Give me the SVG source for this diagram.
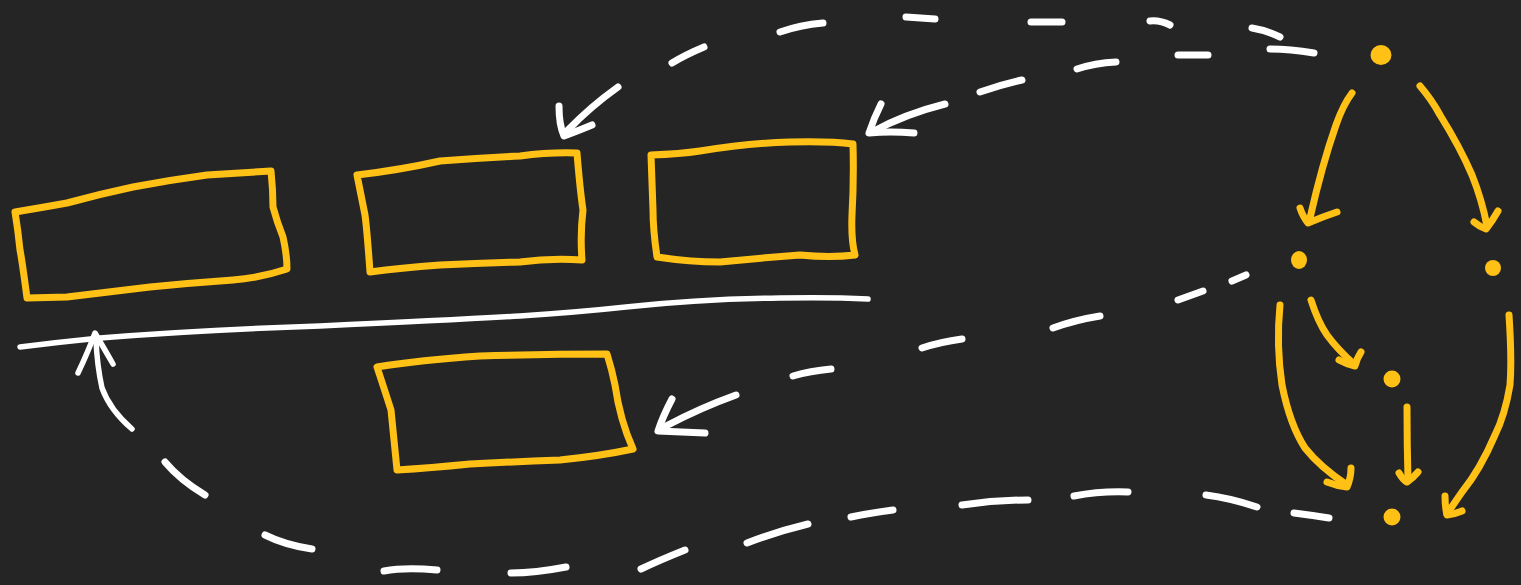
<svg xmlns="http://www.w3.org/2000/svg" width="1521" height="585" viewBox="0 0 1521 585">
<style>
.y{fill:none;stroke:#ffc116;stroke-width:7;stroke-linecap:round;stroke-linejoin:round}
.w{fill:none;stroke:#ffffff;stroke-width:7;stroke-linecap:round;stroke-linejoin:round}
.l{fill:none;stroke:#ffffff;stroke-width:5.5;stroke-linecap:round;stroke-linejoin:round}
.d{fill:#ffc116}
</style>
<rect width="1521" height="585" fill="#252525"/>
<g id="rect1"><path class="y" d="M15,212 Q45,207 67,203 Q100,194 133,187 Q170,180 207,175 L271,171 Q273,190 273,207 Q277,222 283,237 Q287,255 287,269 Q260,278 233,280 Q190,283 150,287 Q100,293 67,297 L27,298 Q22,260 20,250 Q18,230 15,212 Z"/></g>
<g id="rect2"><path class="y" d="M357,175 Q400,170 440,161 Q480,158 520,156 Q550,152 577,153 Q580,190 583,210 Q580,235 582,260 Q550,258 520,262 Q480,263 440,265 Q400,268 370,272 Q367,230 365,215 Q360,190 357,175 Z"/></g>
<g id="rect3"><path class="y" d="M651,155 Q680,154 700,151 Q750,143 790,142 Q830,141 853,144 Q854,180 852,215 Q851,240 855,255 Q830,258 800,255 Q760,258 720,262 Q690,262 657,257 Q653,230 653,210 Q652,180 651,155 Z"/></g>
<g id="rect4"><path class="y" d="M377,367 Q420,360 480,356 Q550,354 607,354 Q612,370 615,385 Q620,420 633,449 Q600,456 560,460 Q510,462 470,464 Q430,468 397,470 Q393,430 391,410 Q383,385 377,367 Z"/></g>
<g id="line"><path class="l" d="M20,347 Q60,342 100,338 Q200,330 320,326 Q450,320 520,316 Q580,312 626,307 Q700,299 780,298 Q830,297 868,299"/></g>
<g id="dot1"><ellipse class="d" cx="1381" cy="55" rx="10.5" ry="10"/></g>
<g id="dot2"><ellipse class="d" cx="1299" cy="260" rx="8" ry="9"/></g>
<g id="dot3"><circle class="d" cx="1493" cy="268" r="8"/></g>
<g id="dot4"><circle class="d" cx="1392" cy="379" r="8.5"/></g>
<g id="dot5"><circle class="d" cx="1392" cy="517" r="8.5"/></g>
<g id="connectors">
<path class="w" d="M1280,37 Q1265,30 1252,28"/>
<path class="w" d="M1170,25 Q1160,20 1150,21"/>
<path class="w" d="M1062,22 L1031,22"/>
<path class="w" d="M935,19 L906,17"/>
<path class="w" d="M823,23 Q800,25 780,32"/>
<path class="w" d="M704,47 Q685,55 672,63"/>
<path class="w" d="M618,87 Q590,107 568,130"/>
<path class="w" d="M559,106 Q559,125 564,136 Q580,130 592,125"/>
<path class="w" d="M1314,53 Q1290,49 1270,49"/>
<path class="w" d="M1208,55 L1178,55"/>
<path class="w" d="M1116,62 Q1095,63 1077,69"/>
<path class="w" d="M1022,80 Q1000,85 980,92"/>
<path class="w" d="M945,104 Q905,114 872,132"/>
<path class="w" d="M881,104 Q874,118 869,133 Q890,131 914,133"/>
<path class="w" d="M1246,275 L1232,281"/>
<path class="w" d="M1203,291 L1178,300"/>
<path class="w" d="M1100,316 Q1075,320 1053,328"/>
<path class="w" d="M962,339 Q940,342 922,348"/>
<path class="w" d="M831,369 Q810,371 793,376"/>
<path class="w" d="M736,395 Q700,408 666,426"/>
<path class="w" d="M672,399 Q663,416 658,431 Q680,432 705,433"/>
<path class="w" d="M1329,518 Q1310,515 1294,513"/>
<path class="w" d="M1257,507 Q1230,498 1206,495"/>
<path class="w" d="M1128,492 Q1100,491 1074,496"/>
<path class="w" d="M1028,500 Q995,500 962,505"/>
<path class="w" d="M893,510 Q870,513 851,517"/>
<path class="w" d="M808,524 Q775,532 747,543"/>
<path class="w" d="M685,550 Q660,560 641,569"/>
<path class="w" d="M566,567 Q535,573 511,573"/>
<path class="w" d="M437,570 Q405,567 384,571"/>
<path class="w" d="M312,549 Q285,545 265,535"/>
<path class="w" d="M205,495 Q180,480 165,462"/>
<path class="l" d="M132,429 Q110,410 102,388 Q97,365 96,340"/>
<path class="l" d="M78,373 Q88,352 95,333 Q105,350 113,364"/>
<path class="y" d="M1352,93 Q1343,105 1336,125 Q1322,165 1310,218"/>
<path class="y" d="M1300,208 Q1303,217 1308,223 Q1322,217 1337,212"/>
<path class="y" d="M1420,86 Q1432,100 1440,115 Q1460,147 1472,175 Q1482,200 1487,226"/>
<path class="y" d="M1474,222 Q1480,227 1486,229 Q1493,220 1498,211"/>
<path class="y" d="M1280,305 Q1276,345 1282,385 Q1290,425 1305,448 Q1320,467 1347,485"/>
<path class="y" d="M1327,482 Q1337,486 1347,487 Q1351,478 1351,468"/>
<path class="y" d="M1311,300 Q1318,322 1327,335 Q1338,350 1354,364"/>
<path class="y" d="M1339,360 Q1346,364 1355,366 Q1357,358 1361,352"/>
<path class="y" d="M1407,407 Q1407,445 1408,480"/>
<path class="y" d="M1399,473 Q1403,480 1407,482 Q1413,478 1418,472"/>
<path class="y" d="M1509,315 Q1512,360 1510,385 Q1505,415 1495,435 Q1480,470 1462,492 Q1453,505 1447,514"/>
<path class="y" d="M1445,496 Q1445,507 1447,515 Q1455,514 1462,511"/>
</g>
</svg>
